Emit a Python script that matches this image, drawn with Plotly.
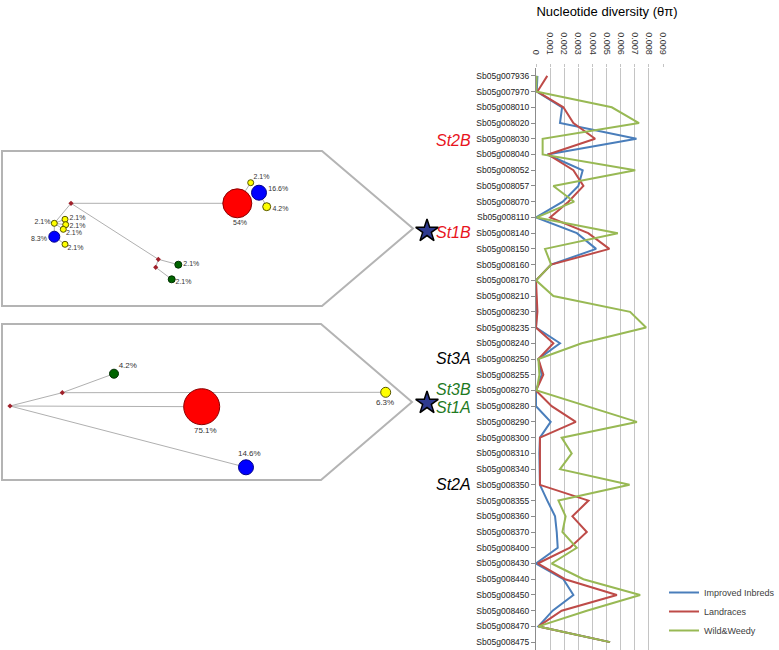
import plotly.graph_objects as go

W, H = 779, 650

# ---------------- line chart data ----------------
genes = ["Sb05g007936", "Sb05g007970", "Sb05g008010", "Sb05g008020", "Sb05g008030",
         "Sb05g008040", "Sb05g008052", "Sb05g008057", "Sb05g008070", "Sb05g008110",
         "Sb05g008140", "Sb05g008150", "Sb05g008160", "Sb05g008170", "Sb05g008210",
         "Sb05g008230", "Sb05g008235", "Sb05g008240", "Sb05g008250", "Sb05g008255",
         "Sb05g008270", "Sb05g008280", "Sb05g008290", "Sb05g008300", "Sb05g008310",
         "Sb05g008340", "Sb05g008350", "Sb05g008355", "Sb05g008360", "Sb05g008370",
         "Sb05g008400", "Sb05g008430", "Sb05g008440", "Sb05g008450", "Sb05g008460",
         "Sb05g008470", "Sb05g008475"]

improved_inbreds = [0.0001, 0.00005, 0.00185, 0.0017, 0.00712, 0.0008, 0.00331, 0.0030,
                    0.0019, 0.0, 0.0029, 0.00426, 0.00107, 0.0, 0.0, 0.00005, 0.0,
                    0.0017, 0.00017, 0.0004, 0.0, 0.0, 0.00104, 0.00028, 0.00024,
                    0.00028, 0.00028, 0.0008, 0.00135, 0.00147, 0.00154, 0.0,
                    0.00194, 0.00265, 0.00118, 0.00017, 0.00525]
landraces = [0.0008, 0.0001, 0.00194, 0.00265, 0.00419, 0.00085, 0.00265, 0.00336,
             0.0023, 0.001, 0.0037, 0.0052, 0.00107, 0.0, 0.00005, 0.0001, 0.0,
             0.00123, 0.00017, 0.00052, 0.0, 0.00111, 0.00282, 0.00028, 0.00028,
             0.00028, 0.00028, 0.00372, 0.00258, 0.0036, 0.00241, 0.00012,
             0.00206, 0.00573, 0.00182, 0.00017, 0.00525]
wild_weedy = [0.00005, 0.0, 0.00537, 0.0073, 0.00047, 0.00047, 0.00703, 0.00123,
              0.0027, 0.00005, 0.0058, 0.00064, 0.00107, 0.0, 0.00123, 0.00667,
              0.0078, 0.00324, 0.00017, 0.00024, 0.00005, 0.0036, 0.00715, 0.00182,
              0.00253, 0.0017, 0.00663, 0.00159, 0.0021, 0.00187, 0.00289, 0.00111,
              0.00336, 0.00738, 0.0036, 0.00017, 0.00525]

series_names = ["Improved Inbreds", "Landraces", "Wild&Weedy"]
series_colors = ["#4a7ebb", "#be4b48", "#98b954"]

# ---------------- haplotype networks (pixel layout) ----------------
# top network
top_nodes_x = [237.3, 259.0, 250.7, 266.7, 54.3, 65.0, 65.7, 63.3, 54.3, 65.0, 178.3, 171.7]
top_nodes_y = [203.3, 192.7, 182.7, 206.7, 223.3, 219.3, 224.7, 229.3, 236.7, 244.3, 264.7, 279.3]
top_nodes_size = [29, 15, 6, 8, 6, 6, 6, 6, 11, 6, 7, 7]
top_nodes_color = ["#ff0000", "#0000ff", "#ffff00", "#ffff00", "#ffff00", "#ffff00", "#ffff00",
                   "#ffff00", "#0000ff", "#ffff00", "#006400", "#006400"]
top_median_x = [71.0, 158.3, 155.7]
top_median_y = [203.3, 259.3, 267.3]
top_edges = [((71.0, 203.3), (237.3, 203.3)), ((237.3, 203.3), (250.7, 182.7)),
             ((259.0, 192.7), (266.7, 206.7)), ((71.0, 203.3), (54.3, 223.3)),
             ((54.3, 223.3), (65.0, 219.3)), ((54.3, 223.3), (65.7, 224.7)),
             ((54.3, 223.3), (63.3, 229.3)), ((54.3, 223.3), (54.3, 236.7)),
             ((54.3, 236.7), (65.0, 244.3)), ((71.0, 203.3), (158.3, 259.3)),
             ((158.3, 259.3), (178.3, 264.7)), ((158.3, 259.3), (155.7, 267.3)),
             ((155.7, 267.3), (171.7, 279.3))]
top_labels = ["2.1%", "16.6%", "4.2%", "54%", "2.1%", "2.1%", "2.1%", "2.1%", "8.3%",
              "2.1%", "2.1%", "2.1%"]
top_labels_x = [261.5, 278.3, 280.5, 240.0, 42.5, 77.5, 77.5, 74.0, 39.0, 75.5, 191.3, 183.5]
top_labels_y = [177.3, 189.3, 209.7, 223.3, 222.3, 218.2, 226.2, 233.7, 239.3, 248.3, 264.7, 282.0]

# bottom network
bot_nodes_x = [201.7, 246.0, 114.0, 385.7]
bot_nodes_y = [406.7, 467.3, 373.7, 392.3]
bot_nodes_size = [36, 15, 9, 10]
bot_nodes_color = ["#ff0000", "#0000ff", "#006400", "#ffff00"]
bot_median_x = [10.0, 62.3]
bot_median_y = [406.0, 392.7]
bot_edges = [((10.0, 406.0), (62.3, 392.7)), ((62.3, 392.7), (114.0, 373.7)),
             ((62.3, 392.7), (385.7, 392.3)), ((10.0, 406.0), (201.7, 406.7)),
             ((10.0, 406.0), (246.0, 467.3))]
bot_labels = ["75.1%", "14.6%", "4.2%", "6.3%"]
bot_labels_x = [205.3, 249.3, 127.8, 385.0]
bot_labels_y = [431.0, 454.0, 366.0, 403.3]

# frames (arrow-shaped boxes)
frame_top = [(2, 151), (322, 151), (413, 228.5), (322, 306), (2, 306)]
frame_bot = [(2, 324), (321, 324), (412, 402), (321, 480), (2, 480)]

# stars and gene labels
star_x = [427, 427]
star_y = [231, 403]
gene_tags = ["St2B", "St1B", "St3A", "St3B", "St1A", "St2A"]
gene_tags_y = [140, 232, 358, 389, 407, 484]
gene_tags_color = ["#e8141c", "#e8141c", "#000000", "#1f7a1f", "#1f7a1f", "#000000"]

fig = go.Figure()

for name, vals, col in zip(series_names, [improved_inbreds, landraces, wild_weedy], series_colors):
    fig.add_trace(go.Scatter(x=vals, y=genes, mode="lines", name=name,
                             line=dict(color=col, width=2), xaxis="x", yaxis="y"))


def edge_xy(edges):
    xs, ys = [], []
    for (a, b) in edges:
        xs += [a[0], b[0], None]
        ys += [a[1], b[1], None]
    return xs, ys


for edges in (top_edges, bot_edges):
    ex, ey = edge_xy(edges)
    fig.add_trace(go.Scatter(x=ex, y=ey, mode="lines", line=dict(color="#b0b0b0", width=1),
                             xaxis="x2", yaxis="y2", showlegend=False, hoverinfo="skip"))

for mx, my in ((top_median_x, top_median_y), (bot_median_x, bot_median_y)):
    fig.add_trace(go.Scatter(x=mx, y=my, mode="markers",
                             marker=dict(symbol="diamond", size=4, color="#a0202a", opacity=1),
                             xaxis="x2", yaxis="y2", showlegend=False, hoverinfo="skip"))


def outline(c):
    return {"#ff0000": "#8b0000", "#0000ff": "#00008b", "#ffff00": "#555500",
            "#006400": "#003000"}[c]


for nx, ny, ns, nc in ((top_nodes_x, top_nodes_y, top_nodes_size, top_nodes_color),
                       (bot_nodes_x, bot_nodes_y, bot_nodes_size, bot_nodes_color)):
    fig.add_trace(go.Scatter(x=nx, y=ny, mode="markers",
                             marker=dict(size=ns, color=nc, opacity=1,
                                         line=dict(color=[outline(c) for c in nc], width=1)),
                             xaxis="x2", yaxis="y2", showlegend=False, hoverinfo="skip"))

fig.add_trace(go.Scatter(x=top_labels_x, y=top_labels_y, text=top_labels, mode="text",
                         textfont=dict(family="Liberation Sans", size=7, color="#333333"),
                         xaxis="x2", yaxis="y2", showlegend=False, hoverinfo="skip"))
fig.add_trace(go.Scatter(x=bot_labels_x, y=bot_labels_y, text=bot_labels, mode="text",
                         textfont=dict(family="Liberation Sans", size=8, color="#333333"),
                         xaxis="x2", yaxis="y2", showlegend=False, hoverinfo="skip"))

fig.add_trace(go.Scatter(x=star_x, y=star_y, mode="markers",
                         marker=dict(symbol="star", size=17, color="#2e3a8f", opacity=1,
                                     line=dict(color="#000000", width=1.5)),
                         xaxis="x2", yaxis="y2", showlegend=False, hoverinfo="skip"))


def poly_path(pts):
    return "M " + " L ".join(f"{x},{y}" for x, y in pts) + " Z"


for fr in (frame_top, frame_bot):
    fig.add_shape(type="path", path=poly_path(fr), xref="x2", yref="y2",
                  line=dict(color="#b4b4b4", width=2), layer="below")

for t, ty, tc in zip(gene_tags, gene_tags_y, gene_tags_color):
    fig.add_annotation(x=473, y=ty, xref="x2", yref="y2", text=f"<i>{t}</i>",
                       showarrow=False, xanchor="right", yanchor="middle",
                       font=dict(family="Liberation Sans", size=16, color=tc))

plot_left, plot_right = 536, 663
fig.update_layout(
    width=W, height=H,
    margin=dict(l=0, r=0, t=68, b=0, autoexpand=False),
    paper_bgcolor="white", plot_bgcolor="white",
    font=dict(family="Liberation Sans", color="#333333"),
    title=dict(text="Nucleotide diversity (θπ)", x=607 / W, xanchor="center",
               y=1 - 11 / H, yanchor="middle",
               font=dict(family="Liberation Sans", size=13, color="#000000")),
    xaxis=dict(domain=[plot_left / W, plot_right / W], side="top", range=[0, 0.009],
               dtick=0.001, tick0=0, tickangle=90, showgrid=True, gridcolor="#c4c4c4",
               gridwidth=1, zeroline=False, showline=False, ticks="outside", ticklen=3,
               tickcolor="#c4c4c4", tickfont=dict(size=9, color="#333333"), anchor="y",
               ticklabelstandoff=6, automargin=False, fixedrange=True),
    yaxis=dict(domain=[0, 1], type="category", categoryorder="array", categoryarray=genes,
               range=[len(genes) - 0.5, -0.5], showgrid=False, zeroline=False,
               showline=True, linecolor="#8c8c8c", linewidth=1, ticks="outside",
               ticklen=4, tickcolor="#8c8c8c", tickfont=dict(size=8.5, color="#222222"),
               anchor="x", automargin=False, fixedrange=True),
    xaxis2=dict(domain=[0, 480 / W], range=[0, 480], visible=False, anchor="y2",
                fixedrange=True),
    yaxis2=dict(domain=[0, 1], range=[650, 68], visible=False, anchor="x2",
                fixedrange=True),
    legend=dict(x=664 / W, xanchor="left", y=(650 - 578) / 582, yanchor="top",
                bgcolor="rgba(0,0,0,0)", font=dict(size=9, color="#404040"),
                itemwidth=30, tracegroupgap=0),
    showlegend=True,
)

fig.write_html("out.html", config={"displayModeBar": False},
               post_script="document.body.style.margin='0px';")
